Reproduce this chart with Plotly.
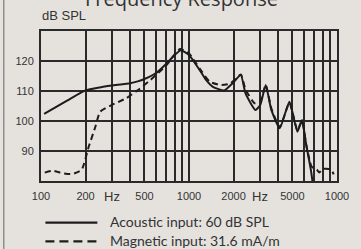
import plotly.graph_objects as go
import numpy as np

# ---- data ----
acoustic_hz = [105, 150, 200, 250, 300, 400, 450, 500, 600, 700, 800, 880, 1000, 1180, 1300, 1450,
               1730, 1970, 2240, 2410, 2810, 3030, 3300, 3600, 4100, 4770, 5400, 5800, 6200, 6660, 7000]
acoustic_db = [102.4, 106.8, 110.2, 111.2, 111.8, 112.6, 113.2, 114.0, 116.0, 119.0, 122.0, 123.6, 122.0, 117.0, 113.8, 111.4,
               110.2, 112.6, 115.3, 109.2, 103.7, 105.3, 112.0, 103.7, 97.6, 106.4, 96.4, 100.3, 92.0, 83.7, 76.0]

magnetic_hz = [106, 120, 140, 162, 188, 210, 233, 251, 300, 377, 460, 550, 700, 870, 1000, 1180, 1380, 1640,
               1900, 2240, 2410, 2780, 3030, 3300, 3600, 4100, 4770, 5400, 5800, 6200, 6700, 7000, 7300, 7600, 8000, 8800, 9200, 9500]
magnetic_db = [82.8, 83.4, 82.6, 82.3, 83.7, 91.4, 98.1, 103.1, 105.3, 107.6, 110.6, 113.7, 118.5, 124.0, 122.5, 117.5, 113.1, 112.0,
               112.5, 115.5, 110.5, 105.9, 106.5, 112.0, 104.2, 98.0, 106.0, 97.0, 100.0, 92.0, 85.0, 84.2, 83.8, 82.8, 84.0, 84.0, 83.6, 82.2]

grid_hz = [100, 200, 300, 400, 500, 600, 700, 800, 900, 1000, 2000, 3000, 4000, 5000, 6000, 7000, 8000, 9000, 10000]
grid_text = ["100", "200", "", "", "500", "", "", "", "", "1000", "2000", "", "", "5000", "", "", "", "", "1000"]
hz_label_pos = [300, 3000]
y_ticks = [90, 100, 110, 120]
series_names = ["Acoustic input: 60 dB SPL", "Magnetic input: 31.6 mA/m"]

BG = "#e5e2de"
INK = "#1c1c1c"
GRID = "#2a2a2a"

fig = go.Figure()
fig.add_trace(go.Scatter(x=acoustic_hz, y=acoustic_db, mode="lines",
                         line=dict(color=INK, width=2, shape="spline", smoothing=0.5),
                         name=series_names[0], showlegend=False, hoverinfo="skip"))
fig.add_trace(go.Scatter(x=magnetic_hz, y=magnetic_db, mode="lines",
                         line=dict(color=INK, width=2, dash="6px,4px", shape="spline", smoothing=0.5),
                         name=series_names[1], showlegend=False, hoverinfo="skip"))

W, H = 361, 249
L, R, T, B = 41, 18, 31, 68
pw, ph = W - L - R, H - T - B

def px(xp):
    return (xp - L) / pw

def py(yp):
    return (H - B - yp) / ph

fig.update_layout(
    width=W, height=H, autosize=False,
    margin=dict(l=L, r=R, t=T, b=B, pad=0),
    paper_bgcolor=BG, plot_bgcolor=BG,
    showlegend=False,
)
fig.update_xaxes(type="log", range=[2, 4], tickvals=grid_hz, ticktext=grid_text,
                 showgrid=True, gridcolor=GRID, gridwidth=2,
                 showline=True, mirror=True, linecolor=GRID, linewidth=2,
                 ticks="", ticklabelstandoff=4,
                 tickfont=dict(family="Liberation Sans", size=11, color="#333333"),
                 zeroline=False)
fig.update_yaxes(range=[80, 130], tickvals=y_ticks,
                 showgrid=True, gridcolor=GRID, gridwidth=2,
                 showline=True, mirror=True, linecolor=GRID, linewidth=2,
                 ticks="", ticklabelstandoff=3,
                 tickfont=dict(family="Liberation Sans", size=11, color="#333333"),
                 zeroline=False)

shapes = [
    dict(type="line", xref="paper", yref="paper", x0=px(3), x1=px(3), y0=py(-5), y1=py(255),
         line=dict(color="#8f8f8f", width=1.5)),
    dict(type="line", xref="paper", yref="paper", x0=px(45.5), x1=px(98.5), y0=py(222.7), y1=py(222.7),
         line=dict(color=INK, width=2.2)),
    dict(type="line", xref="paper", yref="paper", x0=px(45.5), x1=px(98.5), y0=py(241.3), y1=py(241.3),
         line=dict(color=INK, width=2.2, dash="9px,5px")),
]
fig.update_layout(shapes=shapes)

ann = [
    dict(text="Frequency Response", xref="paper", yref="paper", x=px(184), y=py(-2),
         xanchor="center", yanchor="middle", showarrow=False,
         font=dict(family="Open Sans", size=20, color="#333333")),
    dict(text="dB SPL", xref="paper", yref="paper", x=px(40), y=py(16),
         xanchor="left", yanchor="middle", showarrow=False,
         font=dict(family="Liberation Sans", size=13, color="#333333")),
    dict(text=series_names[0], xref="paper", yref="paper", x=px(109), y=py(221.5),
         xanchor="left", yanchor="middle", showarrow=False,
         font=dict(family="Lato", size=14, color="#333333")),
    dict(text=series_names[1], xref="paper", yref="paper", x=px(109), y=py(240.5),
         xanchor="left", yanchor="middle", showarrow=False,
         font=dict(family="Lato", size=14, color="#333333")),
]
for f in hz_label_pos:
    ann.append(dict(text="Hz", xref="x", yref="paper", x=np.log10(f), y=py(196.5),
                    xanchor="center", yanchor="middle", showarrow=False,
                    font=dict(family="Liberation Sans", size=13, color="#333333")))
fig.update_layout(annotations=ann)

fig.write_html("out.html", config={"displayModeBar": False},
               post_script="document.body.style.margin='0';document.body.style.overflow='hidden';")
